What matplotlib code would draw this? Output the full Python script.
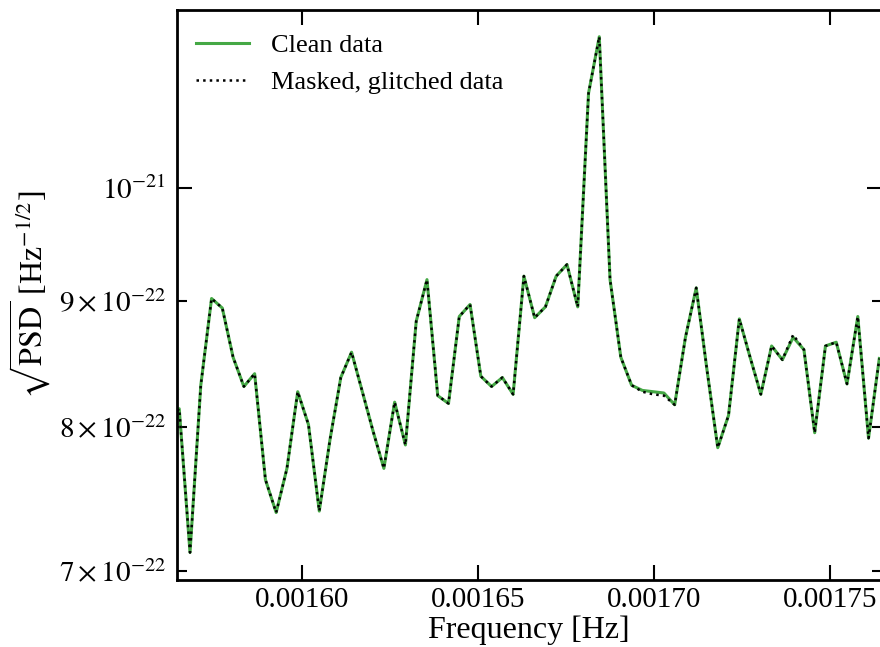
import numpy as np
import matplotlib
matplotlib.use("Agg")
import matplotlib.pyplot as plt

# frequencies [Hz]
freq = [0.00156217, 0.00156523, 0.00156829, 0.00157135, 0.00157441, 0.00157746,
        0.00158052, 0.00158358, 0.00158664, 0.00158970, 0.00159275, 0.00159581,
        0.00159887, 0.00160193, 0.00160499, 0.00160804, 0.00161110, 0.00161416,
        0.00161722, 0.00162028, 0.00162333, 0.00162639, 0.00162945, 0.00163251,
        0.00163557, 0.00163862, 0.00164168, 0.00164474, 0.00164780, 0.00165086,
        0.00165391, 0.00165697, 0.00166003, 0.00166309, 0.00166615, 0.00166920,
        0.00167226, 0.00167532, 0.00167838, 0.00168144, 0.00168449, 0.00168755,
        0.00169061, 0.00169367, 0.00169673, 0.00169978, 0.00170284, 0.00170590,
        0.00170896, 0.00171202, 0.00171507, 0.00171813, 0.00172119, 0.00172425,
        0.00172731, 0.00173036, 0.00173342, 0.00173648, 0.00173954, 0.00174260,
        0.00174565, 0.00174871, 0.00175177, 0.00175483, 0.00175789, 0.00176094,
        0.00176400]

# sqrt(PSD) in units of 1e-22 Hz^-1/2
clean_asd = [8.05, 8.14, 7.12, 8.32, 9.02, 8.94, 8.54, 8.31, 8.41, 7.62, 7.39, 7.70,
             8.27, 8.02, 7.40, 7.91, 8.38, 8.58, 8.27, 7.97, 7.70, 8.19, 7.87, 8.83,
             9.18, 8.24, 8.18, 8.87, 8.97, 8.39, 8.31, 8.38, 8.25, 9.21, 8.86, 8.95,
             9.21, 9.31, 8.95, 10.92, 11.51, 9.18, 8.54, 8.32, 8.28, 8.27, 8.26, 8.17,
             8.70, 9.11, 8.44, 7.85, 8.09, 8.85, 8.54, 8.25, 8.63, 8.52, 8.70, 8.60,
             7.96, 8.63, 8.66, 8.33, 8.87, 7.92, 8.53]

masked_asd = [8.05, 8.14, 7.12, 8.32, 9.02, 8.94, 8.54, 8.31, 8.41, 7.62, 7.39, 7.70,
              8.27, 8.02, 7.40, 7.91, 8.38, 8.58, 8.27, 7.97, 7.70, 8.19, 7.87, 8.83,
              9.18, 8.24, 8.18, 8.87, 8.97, 8.39, 8.31, 8.38, 8.25, 9.21, 8.86, 8.95,
              9.21, 9.31, 8.95, 10.92, 11.51, 9.18, 8.54, 8.32, 8.27, 8.25, 8.24, 8.17,
              8.70, 9.11, 8.44, 7.85, 8.09, 8.85, 8.54, 8.25, 8.63, 8.52, 8.72, 8.60,
              7.96, 8.63, 8.66, 8.33, 8.87, 7.92, 8.53]

xticks = [0.00160, 0.00165, 0.00170, 0.00175]
xtick_labels = ['0.00160', '0.00165', '0.00170', '0.00175']
ymajor = [1e-21]
ymajor_labels = [r'$10^{-21}$']
yminor = [7e-22, 8e-22, 9e-22]
yminor_labels = [r'$7\times10^{-22}$', r'$8\times10^{-22}$', r'$9\times10^{-22}$']

plt.rcParams['font.family'] = ['Liberation Serif', 'DejaVu Serif']
plt.rcParams['mathtext.fontset'] = 'stix'

fig = plt.figure(figsize=(8.8, 6.47), dpi=100)
ax = fig.add_axes([176.7/880, 67/647, (881.5-176.7)/880, 570/647])

f = np.array(freq)
ax.plot(f, np.array(clean_asd)*1e-22, color='#45a845', lw=2.2, label='Clean data')
ax.plot(f, np.array(masked_asd)*1e-22, color='k', lw=1.8, ls=':', label='Masked, glitched data')

ax.set_yscale('log')
ax.set_xlim(0.00156451, 0.00176462)
ax.set_ylim(6.94e-22, 1.18e-21)
ax.set_xticks(xticks, labels=xtick_labels)
ax.set_yticks(ymajor, labels=ymajor_labels)
ax.set_yticks(yminor, labels=yminor_labels, minor=True)

ax.tick_params(which='both', direction='in', top=True, right=True, labelsize=21, width=1.5)
ax.tick_params(axis='x', pad=5)
ax.tick_params(axis='y', which='both', pad=8)
ax.tick_params(which='major', length=11)
ax.tick_params(which='minor', length=7)
for s in ax.spines.values():
    s.set_linewidth(2)

ax.set_xlabel('Frequency [Hz]', fontsize=23, labelpad=1.5)
ax.set_ylabel(r'$\sqrt{\rm PSD}$ [Hz$^{-1/2}$]', fontsize=23)

ax.legend(loc='upper left', frameon=False, fontsize=19, handlelength=2.0,
          handletextpad=0.85, borderaxespad=0.5, bbox_to_anchor=(-0.006, 1.0))

fig.savefig('out.png', dpi=100)
